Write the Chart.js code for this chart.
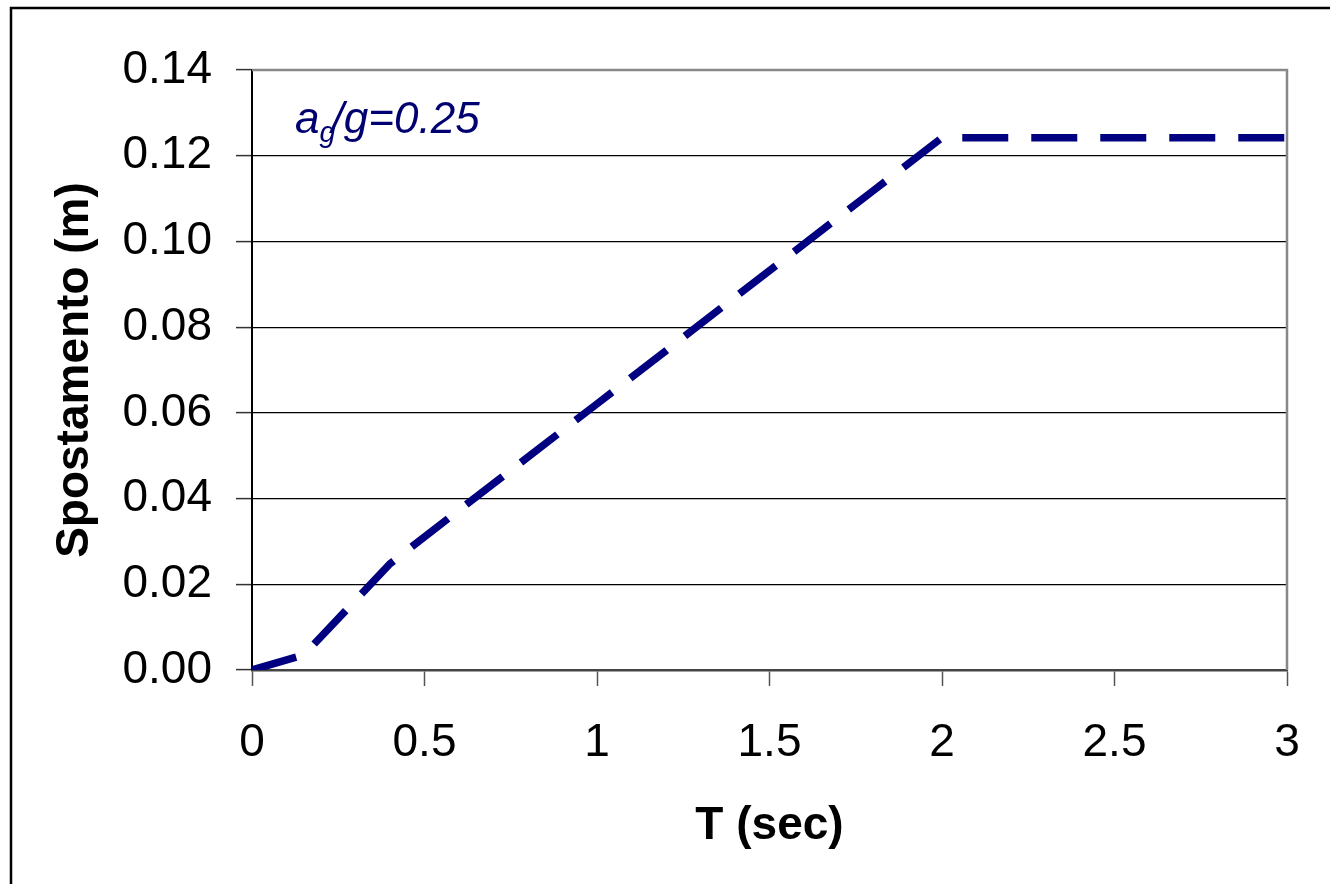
<!DOCTYPE html>
<html>
<head>
<meta charset="utf-8">
<script src="https://cdn.jsdelivr.net/npm/chart.js@4.4.0/dist/chart.umd.min.js"></script>
<style>
    html, body { margin: 0; padding: 0; background: #fff; }
    #wrap { width: 1330px; height: 884px; }
</style>
</head>
<body>
<div id="wrap"><canvas id="line_chart"></canvas></div>
<script>
var periods = [0, 0.15, 0.4, 0.6, 0.8, 1.0, 1.2, 1.4, 1.6, 1.8, 2.0, 2.5, 3.0];
var displacement = [0, 0.0035, 0.0248, 0.0373, 0.0497, 0.0621, 0.0745, 0.0870, 0.0994, 0.1118, 0.1242, 0.1242, 0.1242];
var xTicks = [0, 0.5, 1, 1.5, 2, 2.5, 3];
var yTicks = [0, 0.02, 0.04, 0.06, 0.08, 0.10, 0.12, 0.14];

var FONT = "'Liberation Sans', Arial, Helvetica, sans-serif";

var framePlugin = {
    id: 'frame',
    afterDraw: function (chart) {
        var ctx = chart.ctx;
        var a = chart.chartArea;
        ctx.save();
        // outer frame
        ctx.strokeStyle = '#000';
        ctx.lineWidth = 2.5;
        ctx.strokeRect(11, 8, 1400, 1000);
        // plot area top / right border
        ctx.strokeStyle = '#888';
        ctx.lineWidth = 2.5;
        ctx.beginPath();
        ctx.moveTo(a.left, a.top);
        ctx.lineTo(a.right, a.top);
        ctx.lineTo(a.right, a.bottom);
        ctx.stroke();
        // label a_g/g=0.25
        ctx.fillStyle = '#000070';
        ctx.textBaseline = 'alphabetic';
        var x = 295, y = 133;
        ctx.font = 'italic 44px ' + FONT;
        ctx.fillText('a', x, y);
        x += ctx.measureText('a').width;
        ctx.font = 'italic 29px ' + FONT;
        ctx.fillText('g', x, y + 9);
        x += ctx.measureText('g').width - 4;
        ctx.font = 'italic 44px ' + FONT;
        ctx.fillText('/g=0.25', x, y);
        ctx.restore();
    }
};

function getChartJs() {
    var points = periods.map(function (t, i) { return { x: t, y: displacement[i] }; });
    var config = {
        type: 'line',
        data: {
            datasets: [{
                label: 'Spostamento',
                data: points,
                borderColor: '#000080',
                borderWidth: 7.5,
                borderDash: [46, 23],
                borderCapStyle: 'butt',
                borderJoinStyle: 'miter',
                pointRadius: 0,
                tension: 0,
                fill: false
            }]
        },
        options: {
            responsive: true,
            maintainAspectRatio: false,
            animation: false,
            layout: { padding: { top: 70, right: 43, left: 0, bottom: 0 } },
            plugins: { legend: false, tooltip: { enabled: false } },
            scales: {
                x: {
                    type: 'linear',
                    min: 0,
                    max: 3,
                    afterBuildTicks: function (scale) {
                        scale.ticks = xTicks.map(function (v) { return { value: v }; });
                    },
                    afterFit: function (scale) { scale.height = 214; },
                    ticks: {
                        color: '#000',
                        font: { family: FONT, size: 46 },
                        padding: 30,
                        maxRotation: 0,
                        callback: function (v) { return String(v); }
                    },
                    grid: {
                        drawOnChartArea: false,
                        drawTicks: true,
                        tickLength: 16,
                        tickColor: '#555',
                        tickWidth: 1.5
                    },
                    border: { color: '#444', width: 2.5 },
                    title: {
                        display: true,
                        text: 'T (sec)',
                        color: '#000',
                        font: { family: FONT, size: 46, weight: 'bold' },
                        padding: { top: 0, bottom: 30 }
                    }
                },
                y: {
                    type: 'linear',
                    min: 0,
                    max: 0.14,
                    afterBuildTicks: function (scale) {
                        scale.ticks = yTicks.map(function (v) { return { value: v }; });
                    },
                    afterFit: function (scale) { scale.width = 252; },
                    ticks: {
                        color: '#000',
                        font: { family: FONT, size: 46 },
                        padding: 24,
                        callback: function (v) { return v.toFixed(2); }
                    },
                    grid: {
                        color: '#000',
                        lineWidth: 1.2,
                        drawTicks: true,
                        tickLength: 16,
                        tickColor: '#333',
                        tickWidth: 1.5
                    },
                    border: { color: '#000', width: 2 },
                    title: {
                        display: true,
                        text: 'Spostamento (m)',
                        color: '#000',
                        font: { family: FONT, size: 46, weight: 'bold' },
                        padding: { top: 48, bottom: 0 }
                    }
                }
            }
        },
        plugins: [framePlugin]
    };
    return config;
}

new Chart(document.getElementById('line_chart').getContext('2d'), getChartJs());
</script>
</body>
</html>
